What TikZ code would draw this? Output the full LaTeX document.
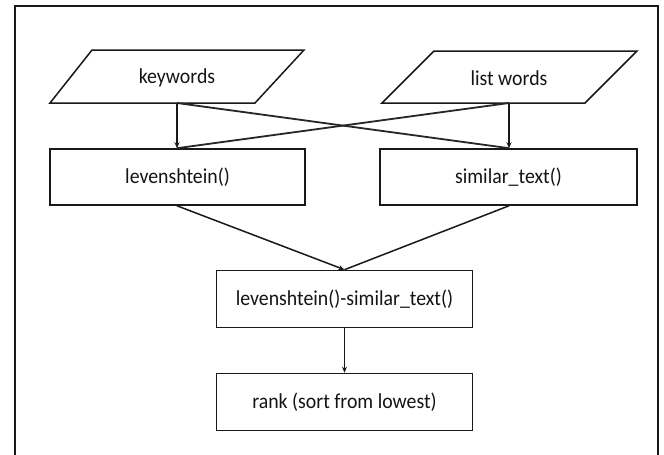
\documentclass[tikz,border=0pt]{standalone}
\usepackage{fontspec}
\setmainfont{Carlito}[FakeStretch=0.93]
\usetikzlibrary{arrows.meta}
\begin{document}
\begin{tikzpicture}[x=1pt,y=-1pt,
  lbl/.style={font=\fontsize{21.3}{24}\selectfont, text=black!92, inner sep=0pt},
  procbox/.style={draw=black!90, line width=1.6pt, fill=white, minimum width=256pt,
    minimum height=57pt, inner sep=0pt, font=\fontsize{21.3}{24}\selectfont, text=black!92},
  inshape/.style={draw=black!90, line width=1.5pt, line join=miter},
  flow/.style={draw=black!90, line width=1.1pt, -{Stealth[length=6pt,width=5pt]}},
  cross/.style={draw=black!85, line width=1.8pt},
  merge/.style={draw=black!90, line width=1.5pt}]
\useasboundingbox (0,0) rectangle (664,455);
\fill[white] (0,0) rectangle (664,455);
% outer frame (open at the bottom)
\draw[line width=1.8pt, black!90] (15,456) -- (15,6) -- (658,6) -- (658,456);

% input parallelograms
\draw[inshape] (92,50) -- (304,50) -- (255,103) -- (50,103) -- cycle;
\node[lbl] (kw) at (177,78) {keywords};
\draw[inshape] (434,51) -- (637,51) -- (585,103) -- (382,103) -- cycle;
\node[lbl] (lw) at (509,78) {list words};
\coordinate (kwb) at (177,103);
\coordinate (lwb) at (509,103);

% processing boxes
\node[procbox, minimum width=255pt, minimum height=56pt] (lev) at (177.5,177) {levenshtein()};
\node[procbox, minimum width=257pt, minimum height=56pt] (sim) at (508.5,177) {similar\_text()};
\node[procbox] (comb) at (344.5,299) {levenshtein()-similar\_text()};
\node[procbox] (rank) at (344.5,402) {rank (sort from lowest)};

% crossing links between inputs and functions
\draw[cross] (kwb) -- (sim.north -| lwb);
\draw[cross] (lwb) -- (lev.north -| kwb);
\draw[flow] (kwb) -- (lev.north -| kwb);
\draw[flow] (lwb) -- (sim.north -| lwb);

% both results feed the difference
\coordinate (lvb) at (lev.south -| kwb);
\coordinate (smb) at (sim.south -| lwb);
\draw[merge] (smb) -- (comb.north);
\draw[merge, -{Stealth[length=6pt,width=5pt]}] (lvb) -- (comb.north);
\draw[flow] (comb.south) -- (rank.north);
\end{tikzpicture}
\end{document}
